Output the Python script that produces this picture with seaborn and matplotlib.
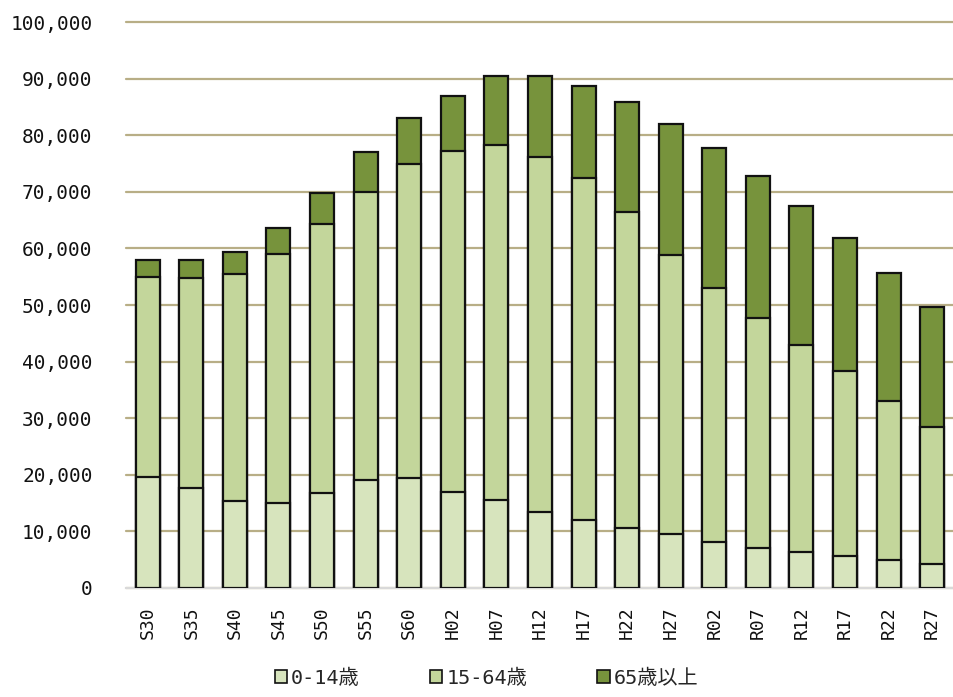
import numpy as np
import pandas as pd
import seaborn as sns
from matplotlib import pyplot as plt
from matplotlib.patches import Patch
from matplotlib.ticker import FuncFormatter

sns.set_theme(style="white")
plt.rcParams["font.family"] = ["DejaVu Sans Mono", "Noto Sans CJK JP"]

# population by age group (persons)
years = ["S30", "S35", "S40", "S45", "S50", "S55", "S60", "H02", "H07", "H12",
         "H17", "H22", "H27", "R02", "R07", "R12", "R17", "R22", "R27"]
age_0_14 = [19600, 17700, 15300, 15000, 16800, 19100, 19500, 17000, 15600, 13400,
            12000, 10600, 9500, 8100, 7000, 6300, 5700, 5000, 4200]
age_15_64 = [35400, 37100, 40200, 44000, 47600, 50900, 55500, 60200, 62700, 62800,
             60500, 55900, 49400, 44900, 40700, 36700, 32600, 28100, 24200]
age_65_up = [3000, 3200, 3800, 4600, 5400, 7100, 8100, 9800, 12200, 14300,
             16200, 19400, 23100, 24800, 25100, 24500, 23500, 22600, 21300]
labels = ["0-14歳", "15-64歳", "65歳以上"]
colors = ["#d7e4bd", "#c3d69b", "#77933c"]

df = pd.DataFrame({"year": years, "young": age_0_14, "work": age_15_64, "old": age_65_up})
df["lvl1"] = df["young"]
df["lvl2"] = df["young"] + df["work"]
df["lvl3"] = df["lvl2"] + df["old"]

fig = plt.figure(figsize=(9.54, 6.97), dpi=100)
ax = fig.add_axes([0.132, 0.1564, 0.868, 0.812])

# layered bars: total first, then the lower groups on top
for col, c in zip(["lvl3", "lvl2", "lvl1"], colors[::-1]):
    sns.barplot(data=df, x="year", y=col, color=c, width=0.55, ax=ax,
                edgecolor="#111111", linewidth=1.6, saturation=1, zorder=3)

ax.set_ylim(0, 100000)
ax.set_xlim(-0.5, len(years) - 0.5)
ax.set_yticks(np.arange(0, 100001, 10000))
ax.yaxis.set_major_formatter(FuncFormatter(lambda v, p: f"{int(v):,}"))
ax.grid(axis="y", color="#b8ae86", linewidth=1.6, zorder=0)
for gl in ax.get_ygridlines():
    gl.set_clip_on(False)
ax.set_axisbelow(True)
ax.set_xlabel("")
ax.set_ylabel("")
for s in ["top", "right", "left"]:
    ax.spines[s].set_visible(False)
ax.spines["bottom"].set_color("#d9d9d9")
ax.spines["bottom"].set_linewidth(1.5)
ax.tick_params(axis="y", length=0, pad=24, labelsize=14, labelcolor="#111111")
ax.tick_params(axis="x", length=0, pad=13, labelsize=13, labelcolor="#111111",
               labelrotation=90)

handles = [Patch(facecolor=c, edgecolor="#111111", linewidth=1.2) for c in colors]
leg = fig.legend(handles, labels, loc="center", bbox_to_anchor=(0.51, 0.027), ncol=3,
                 frameon=False, handlelength=0.6, handleheight=0.6, handletextpad=0.2,
                 columnspacing=3.5,
                 prop={"family": ["DejaVu Sans Mono", "Noto Sans CJK JP"], "size": 14.5})

plt.savefig("out.png", dpi=100)
